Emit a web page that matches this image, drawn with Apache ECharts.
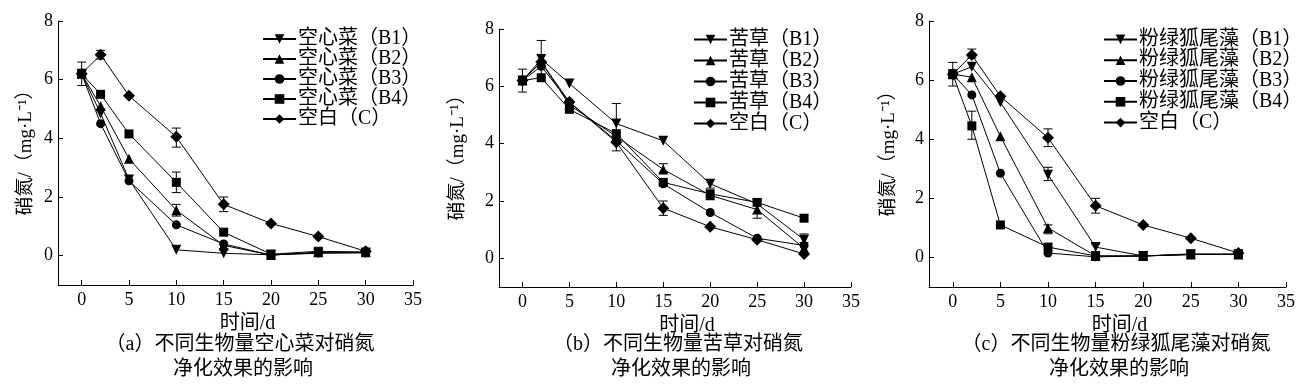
<!DOCTYPE html>
<html><head><meta charset="utf-8">
<script src="https://cdn.jsdelivr.net/npm/echarts@6/dist/echarts.min.js"></script>
<style>html,body{margin:0;padding:0;background:#fff}#c{width:1304px;height:388px}</style>
</head><body><div id="c"></div>
<script>
// ---- data ----
const days = [0, 2, 5, 10, 15, 20, 25, 30];
const xTicks = [0, 5, 10, 15, 20, 25, 30, 35];
const yTicks = [0, 2, 4, 6, 8];
const control = [6.2, 6.85, 5.45, 4.05, 1.75, 1.1, 0.65, 0.15];

const aNames = ['空心菜（B1）', '空心菜（B2）', '空心菜（B3）', '空心菜（B4）', '空白（C）'];
const aB1 = [6.2, 4.85, 2.6, 0.2, 0.08, 0.03, 0.08, 0.1];
const aB2 = [6.2, 5.1, 3.3, 1.55, 0.35, 0.02, 0.12, 0.12];
const aB3 = [6.2, 4.5, 2.55, 1.05, 0.4, 0.02, 0.1, 0.1];
const aB4 = [6.2, 5.5, 4.15, 2.5, 0.8, 0.05, 0.15, 0.12];
const aErr = [[0, 5.8, 6.6], [2, 6.7, 7.0], [10, 3.7, 4.35], [10, 2.15, 2.85], [10, 1.35, 1.75], [15, 1.5, 2.0]];

const bNames = ['苦草（B1）', '苦草（B2）', '苦草（B3）', '苦草（B4）', '空白（C）'];
const bB1 = [6.2, 6.95, 6.1, 4.7, 4.1, 2.6, 1.9, 0.65];
const bB2 = [6.2, 6.85, 5.35, 4.25, 3.1, 2.2, 1.7, 0.35];
const bB3 = [6.2, 6.7, 5.45, 4.1, 2.6, 1.6, 0.7, 0.45];
const bB4 = [6.2, 6.3, 5.2, 4.35, 2.65, 2.25, 1.95, 1.4];
const bErr = [[0, 5.8, 6.6], [2, 6.3, 7.6], [10, 3.75, 5.4], [15, 1.5, 2.0], [15, 3.0, 3.3], [20, 2.45, 2.75], [25, 1.4, 2.0], [30, 0.55, 0.85]];

const cNames = ['粉绿狐尾藻（B1）', '粉绿狐尾藻（B2）', '粉绿狐尾藻（B3）', '粉绿狐尾藻（B4）', '空白（C）'];
const cB1 = [6.2, 6.45, 5.25, 2.8, 0.35, 0.05, 0.1, 0.1];
const cB2 = [6.2, 6.1, 4.1, 1.0, 0.05, 0.05, 0.1, 0.1];
const cB3 = [6.2, 5.5, 2.85, 0.15, 0.02, 0.05, 0.1, 0.1];
const cB4 = [6.2, 4.45, 1.1, 0.35, 0.05, 0.05, 0.12, 0.12];
const cErr = [[0, 5.8, 6.6], [2, 6.75, 7.05], [2, 4.0, 4.95], [10, 3.75, 4.35], [10, 2.6, 3.05], [10, 0.8, 1.1], [15, 1.5, 2.0], [15, 0.2, 0.45]];

const captions = [
  ['（a）不同生物量空心菜对硝氮', '净化效果的影响'],
  ['（b）不同生物量苦草对硝氮', '净化效果的影响'],
  ['（c）不同生物量粉绿狐尾藻对硝氮', '净化效果的影响']
];
const xName = '时间/d';
const yName = '硝氮/（mg·L⁻¹）';

// ---- build ----
const FONT = '"Liberation Serif", "Noto Sans CJK SC", serif';
const panels = [
  {names: aNames, vals: [aB1, aB2, aB3, aB4, control], err: aErr,
   grid: {left: 58, top: 21, width: 355, height: 264}, yGap: 22, xGap: 29,
   legend: {left: 257, top: 24, gap: 0, lh: 19.5}, cap: 240},
  {names: bNames, vals: [bB1, bB2, bB3, bB4, control], err: bErr,
   grid: {left: 499, top: 29, width: 352, height: 258}, yGap: 31, xGap: 27,
   legend: {left: 688, top: 24, gap: 0, lh: 21}, cap: 678},
  {names: cNames, vals: [cB1, cB2, cB3, cB4, control], err: cErr,
   grid: {left: 929, top: 21, width: 357, height: 266}, yGap: 30, xGap: 27,
   legend: {left: 1098, top: 24, gap: 0, lh: 20.8}, cap: 1116}
];
const symbols = [
  {symbol: 'triangle', size: 10, rotate: 180},
  {symbol: 'triangle', size: 10, rotate: 0},
  {symbol: 'circle', size: 9, rotate: 0},
  {symbol: 'rect', size: 9, rotate: 0},
  {symbol: 'diamond', size: 12, rotate: 0}
];

function renderErr(params, api) {
  const x = api.value(0);
  const lo = api.coord([x, api.value(1)]);
  const hi = api.coord([x, api.value(2)]);
  const w = 4.5;
  const st = {stroke: '#000', lineWidth: 1};
  return {type: 'group', children: [
    {type: 'line', shape: {x1: lo[0], y1: lo[1], x2: hi[0], y2: hi[1]}, style: st},
    {type: 'line', shape: {x1: hi[0] - w, y1: hi[1], x2: hi[0] + w, y2: hi[1]}, style: st},
    {type: 'line', shape: {x1: lo[0] - w, y1: lo[1], x2: lo[0] + w, y2: lo[1]}, style: st}
  ]};
}

const grids = [], xAxes = [], yAxes = [], series = [], legends = [], graphics = [];
panels.forEach((p, i) => {
  grids.push(Object.assign({containLabel: false}, p.grid));
  xAxes.push({
    gridIndex: i, type: 'value', min: -2.5, max: 35,
    axisLine: {show: true, onZero: false, lineStyle: {color: '#000', width: 1}},
    axisTick: {show: true, inside: true, length: 5, customValues: xTicks, lineStyle: {color: '#000'}},
    axisLabel: {customValues: xTicks, color: '#000', fontSize: 18, fontFamily: FONT, margin: 6},
    splitLine: {show: false},
    name: xName, nameLocation: 'middle', nameGap: p.xGap,
    nameTextStyle: {color: '#000', fontSize: 20, fontFamily: FONT, padding: [0, 0, 0, 24]}
  });
  yAxes.push({
    gridIndex: i, type: 'value', min: -1, max: 8,
    axisLine: {show: true, onZero: false, lineStyle: {color: '#000', width: 1}},
    axisTick: {show: true, inside: true, length: 5, customValues: yTicks, lineStyle: {color: '#000'}},
    axisLabel: {customValues: yTicks, color: '#000', fontSize: 18, fontFamily: FONT, margin: 5},
    splitLine: {show: false},
    name: yName, nameLocation: 'middle', nameRotate: 90, nameGap: p.yGap,
    nameTextStyle: {color: '#000', fontSize: 19, fontFamily: FONT, padding: [0, 0, 0, 10]}
  });
  p.vals.forEach((v, k) => {
    const s = symbols[k];
    series.push({
      type: 'line', name: p.names[k], xAxisIndex: i, yAxisIndex: i,
      data: days.map((d, j) => [d, v[j]]),
      symbol: s.symbol, symbolSize: s.size, symbolRotate: s.rotate,
      showAllSymbol: true,
      itemStyle: {color: '#000'}, lineStyle: {color: '#000', width: 1},
      emphasis: {disabled: true}, z: 3
    });
  });
  series.push({
    type: 'custom', xAxisIndex: i, yAxisIndex: i, data: p.err,
    renderItem: renderErr, encode: {x: 0, y: [1, 2]}, z: 2, silent: true
  });
  legends.push({
    orient: 'vertical', left: p.legend.left, top: p.legend.top,
    data: p.names, itemGap: p.legend.gap, itemWidth: 33, itemHeight: 12,
    textStyle: {color: '#000', fontSize: 20, fontFamily: FONT, lineHeight: p.legend.lh, padding: [0, 0, 0, -3]},
    selectedMode: false, inactiveColor: '#000'
  });
  graphics.push({type: 'text', x: p.cap, y: 345,
    style: {text: captions[i][0], fill: '#000', font: '20px ' + FONT, textAlign: 'center', textVerticalAlign: 'middle'}});
  graphics.push({type: 'text', x: p.cap + 3, y: 370,
    style: {text: captions[i][1], fill: '#000', font: '20px ' + FONT, textAlign: 'center', textVerticalAlign: 'middle'}});
});

const chart = echarts.init(document.getElementById('c'), null, {renderer: 'canvas'});
chart.setOption({
  animation: false,
  backgroundColor: '#fff',
  grid: grids, xAxis: xAxes, yAxis: yAxes, series: series, legend: legends,
  graphic: graphics
});
</script>
</body></html>
